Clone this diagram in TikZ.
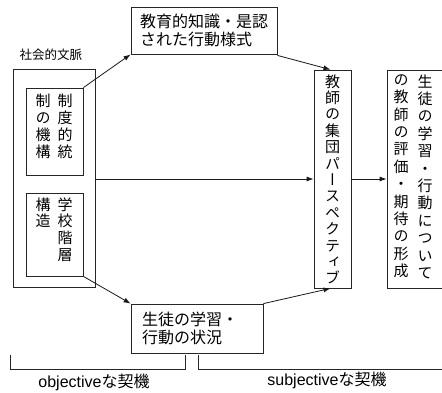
\documentclass[tikz,border=0pt]{standalone}
\usepackage{fontspec}
\usetikzlibrary{arrows.meta}
\newfontfamily\jp{Noto Sans CJK JP}
\newfontfamily\jpv[RawFeature=+vert]{Noto Sans CJK JP}
\newfontfamily\lat{Liberation Sans}
\begin{document}
\begin{tikzpicture}[x=1pt,y=-1pt,
  line width=0.8pt,
  box/.style={draw=black!85, rectangle, inner sep=0pt},
  arr/.style={draw=black!90, -{Latex[length=7pt,width=5pt]}},
  vt/.style={inner sep=0pt, anchor=north, align=center, font=\jpv\fontsize{15}{16.8}\selectfont},
  ht/.style={align=left, inner sep=0pt, font=\jp\fontsize{16}{18.5}\selectfont},
  brk/.style={draw=black!85, line width=0.7pt}]
\useasboundingbox (0,0) rectangle (442,393);
\fill[white] (0,0) rectangle (442,393);

% social context
\node[font=\jp\fontsize{12.5}{14}\selectfont, inner sep=0pt] (ctxlabel) at (51,55) {社会的文脈};
\node[box, minimum width=82pt, minimum height=218pt] (outer) at (54,178) {};
\node[box, minimum width=57pt, minimum height=87pt] (in1) at (54.5,131.5) {};
\node[box, minimum width=57pt, minimum height=83pt] (in2) at (54.5,234.5) {};
\node[vt] (in1a) at (65,94) {制\\度\\的\\統};
\node[vt] (in1b) at (43,94) {制\\の\\機\\構};
\node[vt] (in2a) at (65,197) {学\\校\\階\\層};
\node[vt] (in2b) at (43,197) {構\\造};

% top and bottom boxes
\node[box, minimum width=146pt, minimum height=47pt, ht, text width=128pt] (top) at (204,30.5) {教育的知識・是認\\された行動様式};
\node[box, minimum width=132pt, minimum height=49pt, ht, text width=110pt] (bot) at (197,328.5) {生徒の学習・\\行動の状況};

% middle and right boxes
\node[box, minimum width=37pt, minimum height=218pt] (mid) at (332.5,179) {};
\node[vt, font=\jpv\fontsize{15}{16.4}\selectfont] (midt) at (332.5,74) {教\\師\\の\\集\\団\\パ\\ー\\ス\\ペ\\ク\\テ\\ィ\\ブ};
\node[box, minimum width=59pt, minimum height=218pt] (right) at (416.5,179) {};
\node[vt, font=\jpv\fontsize{15}{17.4}\selectfont] (rta) at (425,74) {生\\徒\\の\\学\\習\\・\\行\\動\\に\\つ\\い\\て};
\node[vt, font=\jpv\fontsize{15}{17.4}\selectfont] (rtb) at (401,74) {の\\教\\師\\の\\評\\価\\・\\期\\待\\の\\形\\成};

% connectors
\draw[arr] (in1.north east) -- (top.south west);
\draw[arr] ([yshift=-1pt]top.south east) -- ([xshift=-2pt]mid.north);
\draw[arr] (in2.south east) -- (bot.north west);
\draw[arr] (bot.north east) -- ([xshift=-2pt]mid.south);
\draw[arr] (outer.east |- mid.west) -- (mid.west);
\draw[arr] (mid.east) -- (right.west);

% brackets
\coordinate (b1) at (10,355);
\coordinate (b2) at (185,355);
\coordinate (b3) at (198,355);
\coordinate (b4) at (448,369);
\draw[brk] (b1) -- ++(0,14) -| (b2);
\draw[brk] (b3) -- ++(0,14) -- (b4);
\node[inner sep=0pt, font=\fontsize{16}{18}\selectfont] (objl) at (94,382) {\lat objective\jp な契機};
\node[inner sep=0pt, font=\fontsize{16}{18}\selectfont] (subl) at (327,380) {\lat subjective\jp な契機};
\end{tikzpicture}
\end{document}
